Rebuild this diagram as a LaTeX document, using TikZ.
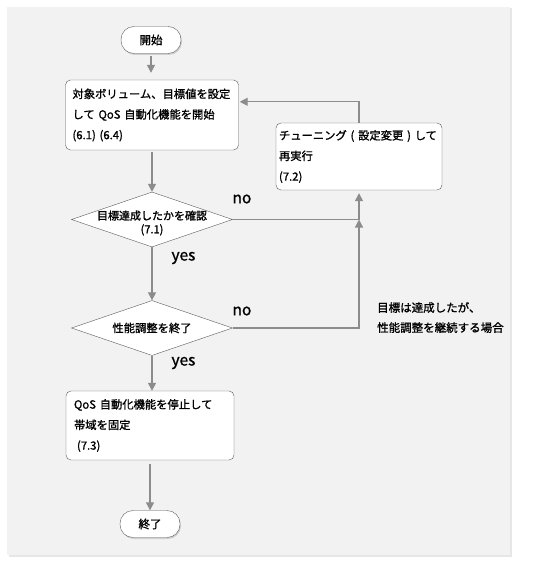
\documentclass[tikz,border=0pt]{standalone}
\usepackage{fontspec}
\setmainfont{Noto Sans CJK JP}[FakeBold=1.2]
\usepackage{tikz}
\usetikzlibrary{positioning}
\usetikzlibrary{shapes.geometric}
\usetikzlibrary{arrows.meta}
\usetikzlibrary{shadows}

\definecolor{panelgray}{HTML}{F2F2F2}
\definecolor{framegray}{HTML}{5A5A5A}
\definecolor{flowgray}{HTML}{8C8C8C}

\begin{document}
\begin{tikzpicture}[x=1pt, y=-1pt,
        terminal/.style={draw=framegray, fill=white, rounded corners=13pt,
            minimum width=60pt, minimum height=27pt, inner sep=0pt,
            font=\fontsize{11.5}{13}\selectfont,
            drop shadow={shadow xshift=1pt, shadow yshift=-1.5pt, opacity=.3}},
        process/.style={draw=framegray, fill=white, rounded corners=5pt,
            align=left, inner ysep=0pt, font=\fontsize{11.3}{20.5}\selectfont},
        decision/.style={draw=framegray, fill=white, diamond,
            minimum width=161pt, minimum height=55pt, inner sep=0pt},
        link/.style={draw=flowgray, line width=1.3pt},
        flow/.style={link, -{Triangle[length=8pt, width=8pt]}},
        answer/.style={anchor=west, font=\fontsize{15.5}{15.5}\selectfont}]

        \def\d{21pt}

        % background panel
        \useasboundingbox (0,0) rectangle (533,569);
        \path[fill=panelgray, drop shadow={shadow xshift=1.5pt, shadow yshift=-1.5pt, opacity=.2}]
            (7,7) rectangle (510,555);

        % main column
        \node[terminal] (start) at (151,40) {開始};
        \node[process, minimum width=173pt, minimum height=70pt, text width=159pt, inner xsep=7pt]
            (setup) at (152,115) {対象ボリューム、目標値を設定\\して QoS 自動化機能を開始\\(6.1) (6.4)};
        \node[decision] (check) at (152,219.5) {};
        \node[align=center, font=\fontsize{11}{13.5}\selectfont] (checktext) at (152,223)
            {目標達成したかを確認\\(7.1)};
        \node[decision] (finish) at (152,328) {};
        \node[font=\fontsize{11.3}{13}\selectfont] (finishtext) at (finish) {性能調整を終了};
        \node[process, minimum width=160pt, minimum height=69pt, text width=152pt, inner xsep=8pt]
            (fix) at (150,425.5) {QoS 自動化機能を停止して\\帯域を固定\\\hspace*{3pt}(7.3)};
        \node[terminal] (stop) at (150,524) {終了};

        % tuning loop
        \node[process, minimum width=166pt, minimum height=67pt, text width=160pt, inner xsep=3pt]
            (tune) at (359,156.5) {チューニング ( 設定変更 ) して\\再実行\\(7.2)};
        \coordinate (merge) at (tune.south |- check.east);
        \coordinate[above=\d of tune.north] (back);

        % labels
        \node[answer] (no1) at (229,199) {no};
        \node[answer] (yes1) at (168,258) {yes};
        \node[answer] (no2) at (229,311) {no};
        \node[answer] (yes2) at (168,363) {yes};
        \node[anchor=north west, align=left, inner sep=0pt, font=\fontsize{11.5}{20}\selectfont]
            (note) at (377,302) {目標は達成したが、\\性能調整を継続する場合};

        \begin{scope}
            \draw[flow, shorten <=2pt, shorten >=7pt] (start.south) -- (start.south |- setup.north);
            \draw[flow, shorten <=2pt] (setup.south) -- (check.north);
            \draw[flow] (check.south) -- (finish.north);
            \draw[flow] (finish.south) -- (finish.south |- fix.north);
            \draw[flow, shorten <=4pt] (fix.south -| stop.north) -- (stop.north);

            \draw[link] (check.east) -- (merge);
            \draw[flow] (finish.east) -| (merge);
            \draw[flow, shorten >=3pt] (merge) -- (tune.south);
            \draw[flow, shorten >=1pt] (tune.north) -- (back) -- (back -| setup.east);
        \end{scope}

\end{tikzpicture}
\end{document}
